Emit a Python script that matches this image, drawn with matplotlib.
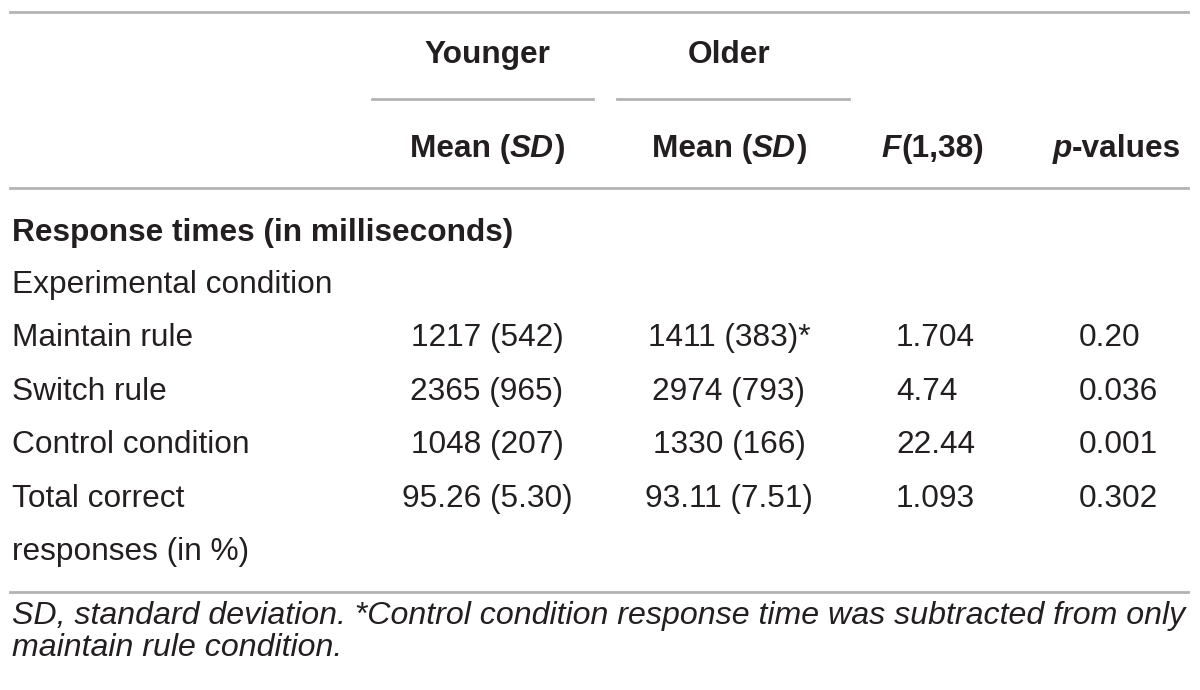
import matplotlib
matplotlib.use("Agg")
import matplotlib.pyplot as plt
from matplotlib import font_manager

# =========================
# TABLE CONTENT
# =========================
row_labels = ["Maintain rule", "Switch rule", "Control condition", "Total correct"]
younger = ["1217 (542)", "2365 (965)", "1048 (207)", "95.26 (5.30)"]
older = ["1411 (383)*", "2974 (793)", "1330 (166)", "93.11 (7.51)"]
f_values = ["1.704", "4.74", "22.44", "1.093"]
p_values = ["0.20", "0.036", "0.001", "0.302"]

section_title = "Response times (in milliseconds)"
subsection = "Experimental condition"
wrap_label = "responses (in %)"
footnote_lines = [
    "SD, standard deviation. *Control condition response time was subtracted from only",
    "maintain rule condition.",
]

# =========================
# STYLE
# =========================
FONT = "Liberation Sans"
names = {f.name for f in font_manager.fontManager.ttflist}
NARROW = "Liberation Sans Narrow" if "Liberation Sans Narrow" in names else FONT
FS = 22.8
TXT = "#231f20"
RULE = "#b3b3b3"

fig = plt.figure(figsize=(12, 6.9), dpi=100)
ax = fig.add_axes([0, 0, 1, 1])
ax.set_xlim(0, 1200)
ax.set_ylim(690, 0)
ax.axis("off")
renderer = fig.canvas.get_renderer()


def put(x, y, s, weight="normal", style="normal", ha="left", family=FONT, size=FS):
    return ax.text(x, y, s, ha=ha, va="baseline", fontsize=size, color=TXT,
                   family=family, fontweight=weight, fontstyle=style)


def put_segments(x, y, segs, ha="center"):
    # draw mixed bold / italic pieces next to each other
    widths = []
    for s, st in segs:
        t = put(0, y, s, weight="bold", style=st)
        bb = t.get_window_extent(renderer)
        widths.append(bb.width)
        t.remove()
    total = sum(widths)
    x0 = x - total / 2 if ha == "center" else x
    for (s, st), w in zip(segs, widths):
        put(x0, y, s, weight="bold", style=st)
        x0 += w


# rules
ax.plot([10, 1188], [12, 12], color=RULE, lw=2)
ax.plot([372, 593], [99, 99], color=RULE, lw=2)
ax.plot([617, 849], [99, 99], color=RULE, lw=2)
ax.plot([10, 1188], [188, 188], color=RULE, lw=2)
ax.plot([10, 1188], [592, 592], color=RULE, lw=2)

# header
put(487, 63, "Younger", weight="bold", ha="center")
put(729, 63, "Older", weight="bold", ha="center")
put_segments(487, 157, [("Mean (", "normal"), ("SD", "italic"), (")", "normal")])
put_segments(729, 157, [("Mean (", "normal"), ("SD", "italic"), (")", "normal")])
put_segments(933, 157, [("F", "italic"), ("(1,38)", "normal")])
put_segments(1117, 157, [("p", "italic"), ("-values", "normal")])

# body
put(12, 241, section_title, weight="bold")
put(12, 293, subsection)
row_y = [346, 400, 453, 507]
for i, y in enumerate(row_y):
    put(12, y, row_labels[i])
    put(487, y, younger[i], ha="center")
    put(729, y, older[i], ha="center")
    put(896, y, f_values[i])
    put(1079, y, p_values[i])
put(12, 560, wrap_label)

# footnote, fitted to the table width
t = put(12, 624, footnote_lines[0], style="italic", family=NARROW, size=20)
w = t.get_window_extent(renderer).width
fs_note = 20 * 1173 / w
t.remove()
put(12, 624, footnote_lines[0], style="italic", family=NARROW, size=fs_note)
put(12, 656, footnote_lines[1], style="italic", family=NARROW, size=fs_note)

fig.savefig("out.png", dpi=100)
